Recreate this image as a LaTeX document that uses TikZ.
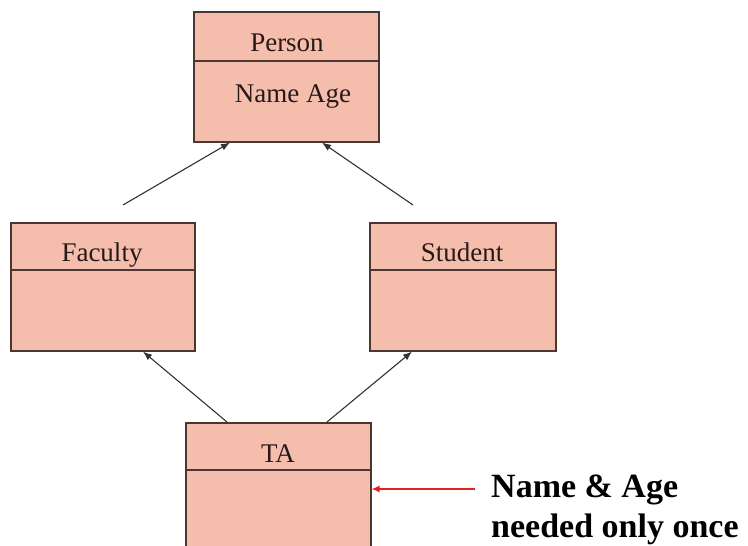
\documentclass[tikz,border=0pt]{standalone}
\usepackage{fontspec}
\setmainfont{Liberation Serif}
\usetikzlibrary{arrows.meta,calc}
\definecolor{boxfill}{RGB}{245,189,172}
\definecolor{boxline}{RGB}{75,55,50}
\definecolor{arrowc}{RGB}{50,50,50}
\definecolor{textc}{RGB}{40,25,25}
\definecolor{notered}{RGB}{228,30,35}
\begin{document}
\begin{tikzpicture}[x=1pt,y=-1pt,
  classbox/.style={draw=boxline, fill=boxfill, line width=1.6pt, inner sep=0pt, anchor=north west},
  divider/.style={draw=boxline, line width=1.6pt},
  title/.style={font=\fontsize{27}{27}\selectfont, text=textc, anchor=base, inner sep=0pt},
  inh/.style={draw=arrowc, line width=1.1pt, -{Latex[length=9pt,width=7pt]}},
  notearrow/.style={draw=notered, line width=1.3pt, -{Latex[length=8pt,width=7pt]}},
  note/.style={font=\bfseries\fontsize{34}{40}\selectfont, align=left, anchor=west, inner sep=0pt, text=black}
]
\clip (0,0) rectangle (748,546);
\useasboundingbox (0,0) rectangle (748,546);

% boxes
\node[classbox, minimum width=185pt, minimum height=130pt] (person) at (193,11) {};
\draw[divider] ($(person.north west)+(0,50)$) -- ($(person.north east)+(0,50)$);
\node[title] (person-t) at (287,52) {Person};
\node[title] (person-a) at (293,102) {Name Age};

\node[classbox, minimum width=184pt, minimum height=128pt] (faculty) at (10,222) {};
\draw[divider] ($(faculty.north west)+(0,48)$) -- ($(faculty.north east)+(0,48)$);
\node[title] (faculty-t) at (102,261) {Faculty};

\node[classbox, minimum width=186pt, minimum height=128pt] (student) at (369,222) {};
\draw[divider] ($(student.north west)+(0,48)$) -- ($(student.north east)+(0,48)$);
\node[title] (student-t) at (462,261) {Student};

\node[classbox, minimum width=185pt, minimum height=160pt] (ta) at (185,422) {};
\draw[divider] ($(ta.north west)+(0,48)$) -- ($(ta.north east)+(0,48)$);
\node[title] (ta-t) at (278,462) {TA};

% inheritance arrows
\coordinate (fac-up) at (123,205);
\coordinate (stu-up) at (413,205);
\draw[inh] ($(ta.north west)+(42,0)$) -- ($(faculty.south west)+(133,0)$);
\draw[inh] ($(ta.north west)+(142,0)$) -- ($(student.south west)+(43,0)$);
\draw[inh] (fac-up) -- ($(person.south west)+(37,0)$);
\draw[inh] (stu-up) -- ($(person.south west)+(129,0)$);

% note
\coordinate (note-start) at (475,489);
\draw[notearrow] (note-start) -- (ta.east |- note-start);
\node[note] (note) at (491,510) {Name \& Age\\needed only once};
\end{tikzpicture}
\end{document}
